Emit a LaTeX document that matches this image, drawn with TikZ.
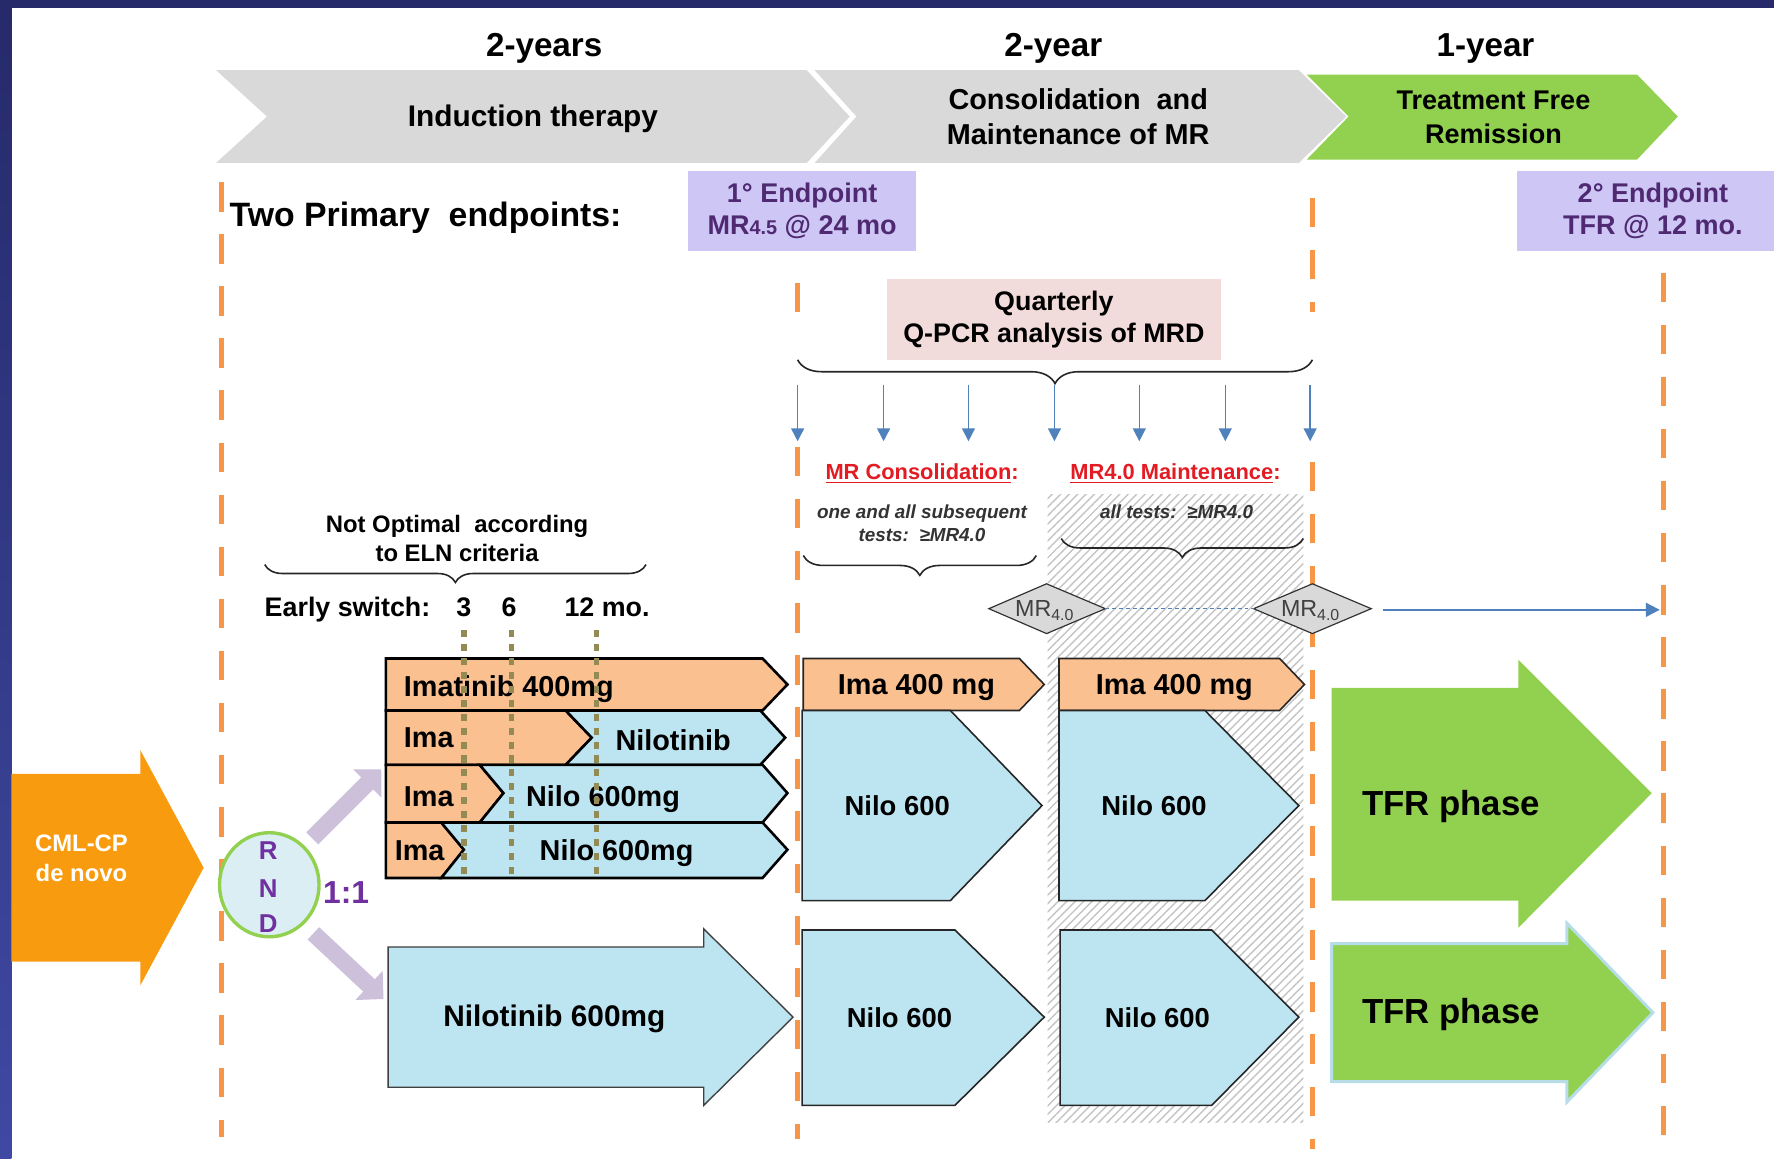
\documentclass[tikz,border=0pt]{standalone}
\usepackage{fontspec}
\setmainfont{Liberation Sans}
\usetikzlibrary{arrows.meta,decorations.pathreplacing,patterns.meta,shapes.geometric}
\definecolor{navy}{HTML}{262A6A}
\definecolor{navyb}{HTML}{3F49A3}
\definecolor{chevgray}{HTML}{D9D9D9}
\definecolor{tfrgreen}{HTML}{92D050}
\definecolor{dashorange}{HTML}{F79646}
\definecolor{barorange}{HTML}{FAC090}
\definecolor{barblue}{HTML}{BDE5F1}
\definecolor{cmlorange}{HTML}{F99B0E}
\definecolor{endlav}{HTML}{CEC7F6}
\definecolor{endtext}{HTML}{4F2A72}
\definecolor{qpink}{HTML}{F2DCDB}
\definecolor{arrowblue}{HTML}{4F81BD}
\definecolor{switcholive}{HTML}{948A54}
\definecolor{headred}{HTML}{E31B23}
\definecolor{rndfill}{HTML}{DAEEF3}
\definecolor{rndpurple}{HTML}{7030A0}
\definecolor{lavarrow}{HTML}{CCC0DA}
\definecolor{diagray}{HTML}{D9D9D9}
\definecolor{hatchgray}{HTML}{C4C4C4}
\definecolor{lightedge}{HTML}{B7DEE8}
\definecolor{notegray}{HTML}{333333}
\definecolor{mrgray}{HTML}{404040}
\begin{document}
\begin{tikzpicture}[x=0.02cm,y=-0.02cm,
  every node/.style={inner sep=0pt,outer sep=0pt},
  odash/.style={draw=dashorange,line width=2.5pt,dash pattern=on 14.8pt off 11.4pt},
  sw/.style={draw=switcholive,line width=2.7pt,dash pattern=on 3.6pt off 3.4pt},
  bar/.style={draw=black,line width=1.3pt,line join=miter},
  blk/.style={draw=black!85,line width=0.8pt,line join=miter},
  qarrow/.style={draw=arrowblue,line width=0.8pt,-{Triangle[length=6.5pt,width=6.5pt]}},
  lavarr/.style={draw=lavarrow,line width=8.5pt,-{Triangle[length=10pt,width=19.5pt]}},
  brc/.style={draw=black!85,line width=0.8pt,decorate},
  diam/.style={draw=black!80,fill=diagray,line width=0.6pt},
  yr/.style={font=\fontsize{16.7}{20}\selectfont\bfseries},
  bartext/.style={font=\fontsize{14.5}{17}\selectfont\bfseries},
  nilotext/.style={font=\fontsize{13.8}{16}\selectfont\bfseries},
  tfrtext/.style={font=\fontsize{17.5}{20}\selectfont\bfseries},
  redhead/.style={font=\fontsize{11}{13}\selectfont\bfseries,text=headred},
  note/.style={font=\fontsize{9.5}{12}\selectfont\bfseries\itshape,text=notegray,align=center},
  mrtxt/.style={font=\fontsize{11.7}{14}\selectfont,text=mrgray},
  endtxt/.style={font=\fontsize{13.6}{16}\selectfont\bfseries,text=endtext,align=center},
  rndl/.style={font=\fontsize{13}{15}\selectfont\bfseries,text=rndpurple},
]
\useasboundingbox (0,0) rectangle (1568,1024);
% frame
\fill[white] (0,0) rectangle (1568,1024);
\fill[navy] (0,0) rectangle (1568,7);
\shade[top color=navy,bottom color=navyb] (0,0) rectangle (10,1024);

% phase chevrons
\fill[chevgray] (191,62) -- (713,62) -- (751,103) -- (713,144) -- (191,144) -- (236,103) -- cycle;
\fill[chevgray] (720,62) -- (1148,62) -- (1190,103) -- (1148,144) -- (720,144) -- (757,103) -- cycle;
\fill[tfrgreen] (1155,66) -- (1447,66) -- (1483,103) -- (1447,141) -- (1155,141) -- (1192,103) -- cycle;
\node[yr,anchor=base] (y1) at (481,49.5) {2-years};
\node[yr,anchor=base] (y2) at (931,49.5) {2-year};
\node[yr,anchor=base] (y3) at (1313,49.5) {1-year};
\node[font=\fontsize{15}{18}\selectfont\bfseries,anchor=base] (ind) at (471,112) {Induction therapy};
\node[font=\fontsize{14.5}{17.6}\selectfont\bfseries,align=center] (cons) at (953,103.5) {Consolidation\ \ and\\Maintenance of MR};
\node[font=\fontsize{13.6}{17}\selectfont\bfseries,align=center] (tfrh) at (1320,104) {Treatment Free\\Remission};

% endpoints
\node[font=\fontsize{17}{20}\selectfont\bfseries,anchor=base west] (two) at (203,200) {Two Primary\ \ endpoints:};
\node[endtxt,fill=endlav,minimum width=4.04cm,minimum height=1.42cm] (ep1) at (709,186.5) {1° Endpoint\\MR{\fontsize{10}{10}\selectfont 4.5} @ 24 mo};
\fill[endlav] (1341,151) rectangle (1568,222);
\node[endtxt] (ep2) at (1461,186.5) {2° Endpoint\\TFR @ 12 mo.};

% orange dashed phase lines
\draw[odash] (196,161) -- (196,1005);
\draw[odash] (705,250) -- (705,277);
\draw[odash] (705,395) -- (705,1007);
\draw[odash] (1160,175) -- (1160,276);
\draw[odash] (1160,408) -- (1160,1016);
\draw[odash] (1470,241) -- (1470,1005);

% hatched maintenance region
\fill[pattern={Lines[angle=45,distance=3pt,line width=0.7pt]},pattern color=hatchgray] (926,437) rectangle (1152,992);

% quarterly box
\node[font=\fontsize{13.5}{16}\selectfont\bfseries,align=center,fill=qpink,minimum width=5.9cm,minimum height=1.42cm] (qbox) at (931.5,282.5) {Quarterly\\Q-PCR analysis of MRD};
\draw[brc,decoration={brace,amplitude=12pt}] (1160,318) -- (705,318);
\foreach \x [count=\i] in {705,781,856,932,1007,1083,1158} {
  \coordinate (qa\i) at (\x,340);
  \coordinate (qb\i) at (\x,390);
  \draw[qarrow] (qa\i) -- (qb\i);
}

% consolidation / maintenance headings
\node[redhead,anchor=base] (mrc) at (815,424) {\underline{MR Consolidation}:};
\node[redhead,anchor=base] (mrm) at (1039,424) {\underline{MR4.0 Maintenance}:};
\node[note] (n1) at (815,462.5) {one and all subsequent\\tests:\ \ ≥MR4.0};
\node[note,anchor=base] (n2) at (1040,458) {all tests:\ \ ≥MR4.0};
\draw[brc,decoration={brace,amplitude=10pt}] (916,491) -- (710,491);
\draw[brc,decoration={brace,amplitude=9.5pt}] (1152,476) -- (938,476);

% MR4.0 diamonds
\coordinate (d1w) at (874,538); \coordinate (d1n) at (925,516);
\coordinate (d1e) at (977,538); \coordinate (d1s) at (925,560);
\coordinate (d2w) at (1108,538); \coordinate (d2n) at (1160,516);
\coordinate (d2e) at (1212,538); \coordinate (d2s) at (1160,560);
\draw[diam] (d1w) -- (d1n) -- (d1e) -- (d1s) -- cycle;
\draw[diam] (d2w) -- (d2n) -- (d2e) -- (d2s) -- cycle;
\node[mrtxt,anchor=base] (d1t) at (923,545) {MR{\fontsize{8}{8}\selectfont\raisebox{-0.45ex}{4.0}}};
\node[mrtxt,anchor=base] (d2t) at (1158,545) {MR{\fontsize{8}{8}\selectfont\raisebox{-0.45ex}{4.0}}};
\draw[draw=arrowblue,line width=0.6pt,dash pattern=on 2pt off 1.5pt] (d1e) -- (d2w);
\coordinate (tfrgo) at (1222,539);
\coordinate (tfrend) at (1467,539);
\draw[draw=arrowblue,line width=0.9pt,-{Triangle[length=7pt,width=7pt]}] (tfrgo) -- (tfrend);

% ELN criteria
\node[font=\fontsize{12}{14.8}\selectfont\bfseries,align=center] (eln) at (404,476) {Not Optimal\ \ according\\to ELN criteria};
\draw[brc,decoration={brace,amplitude=9pt}] (571,499) -- (234,499);
\node[font=\fontsize{13.5}{16}\selectfont\bfseries,anchor=base west] (es) at (234,544.5) {Early switch:};
\node[font=\fontsize{13.5}{16}\selectfont\bfseries,anchor=base] (m3) at (410,544.5) {3};
\node[font=\fontsize{13.5}{16}\selectfont\bfseries,anchor=base] (m6) at (450,544.5) {6};
\node[font=\fontsize{13.5}{16}\selectfont\bfseries,anchor=base west] (m12) at (499,544.5) {12 mo.};

% CML-CP arrow
\fill[cmlorange] (10,684) -- (124,684) -- (124,663) -- (180,767) -- (124,871) -- (124,850) -- (10,850) -- cycle;
\node[font=\fontsize{12}{15.4}\selectfont\bfseries,text=white,align=center] (cml) at (72,758.5) {CML-CP\\de novo};

% randomisation
\node[ellipse,draw=tfrgreen,line width=1.7pt,fill=rndfill,minimum width=1.76cm,minimum height=1.84cm] (rnd) at (238,782) {};
\node[rndl,anchor=base] (rR) at (237,760) {R};
\node[rndl,anchor=base] (rN) at (237,793) {N};
\node[rndl,anchor=base] (rD) at (237,824) {D};
\node[font=\fontsize{16}{18}\selectfont\bfseries,text=rndpurple,anchor=base] (ratio) at (306,799) {1:1};
\coordinate (ua0) at (276,741); \coordinate (ua1) at (337,680);
\coordinate (la0) at (277,825); \coordinate (la1) at (339,883);
\draw[lavarr] (ua0) -- (ua1);
\draw[lavarr] (la0) -- (la1);

% arm A bars
\filldraw[bar,fill=barorange] (341,582) -- (674,582) -- (696,605) -- (674,628) -- (341,628) -- cycle;
\filldraw[bar,fill=barorange] (341,628) -- (500,628) -- (523,652) -- (500,676) -- (341,676) -- cycle;
\filldraw[bar,fill=barblue] (500,628) -- (672,628) -- (694,652) -- (672,676) -- (500,676) -- (523,652) -- cycle;
\filldraw[bar,fill=barorange] (341,676) -- (424,676) -- (445,701) -- (424,727) -- (341,727) -- cycle;
\filldraw[bar,fill=barblue] (424,676) -- (674,676) -- (696,701) -- (674,727) -- (424,727) -- (445,701) -- cycle;
\filldraw[bar,fill=barorange] (341,727) -- (390,727) -- (410,751) -- (390,776) -- (341,776) -- cycle;
\filldraw[bar,fill=barblue] (390,727) -- (674,727) -- (696,751) -- (674,776) -- (390,776) -- (410,751) -- cycle;
\node[bartext,anchor=base west] (imat) at (357,616) {Imatinib\ 400mg};
\node[bartext,anchor=base west] (ima2) at (357,661) {Ima};
\node[bartext,anchor=base] (nilo2) at (595,663) {Nilotinib};
\node[bartext,anchor=base west] (ima3) at (357,713) {Ima};
\node[bartext,anchor=base] (nilo3) at (533,713) {Nilo 600mg};
\node[bartext,anchor=base west] (ima4) at (349,761) {Ima};
\node[bartext,anchor=base] (nilo4) at (545,761) {Nilo 600mg};
\coordinate (s3a) at (410,557); \coordinate (s3b) at (410,776);
\coordinate (s6a) at (452,557); \coordinate (s6b) at (452,776);
\coordinate (s12a) at (527,557); \coordinate (s12b) at (527,776);
\draw[sw] (s3a) -- (s3b);
\draw[sw] (s6a) -- (s6b);
\draw[sw] (s12a) -- (s12b);

% arm B
\filldraw[draw=mrgray,line width=0.7pt,fill=barblue,line join=miter] (343,837) -- (622,837) -- (622,821) -- (701,899) -- (622,977) -- (622,961) -- (343,961) -- cycle;
\node[font=\fontsize{15}{18}\selectfont\bfseries,anchor=base] (armb) at (490,907.5) {Nilotinib\ 600mg};

% consolidation column
\filldraw[blk,fill=barorange] (710,582) -- (901,582) -- (923,605) -- (901,628) -- (710,628) -- cycle;
\filldraw[blk,fill=barblue] (709,628) -- (840,628) -- (921,712) -- (840,796) -- (709,796) -- cycle;
\filldraw[blk,fill=barblue] (709,822) -- (844,822) -- (923,899) -- (844,977) -- (709,977) -- cycle;
% maintenance column
\filldraw[blk,fill=barorange] (936,582) -- (1131,582) -- (1153,605) -- (1131,628) -- (936,628) -- cycle;
\filldraw[blk,fill=barblue] (936,628) -- (1065,628) -- (1148,712) -- (1065,796) -- (936,796) -- cycle;
\filldraw[blk,fill=barblue] (937,822) -- (1071,822) -- (1148,899) -- (1071,977) -- (937,977) -- cycle;
\node[bartext,anchor=base] (c1ima) at (810,613.5) {Ima 400 mg};
\node[bartext,anchor=base] (c2ima) at (1038,613.5) {Ima 400 mg};
\node[nilotext,anchor=base] (c1n1) at (793,721) {Nilo 600};
\node[nilotext,anchor=base] (c2n1) at (1020,721) {Nilo 600};
\node[nilotext,anchor=base] (c1n2) at (795,908) {Nilo 600};
\node[nilotext,anchor=base] (c2n2) at (1023,908) {Nilo 600};

% TFR arrows
\fill[tfrgreen] (1177,608) -- (1342,608) -- (1342,583) -- (1460,701) -- (1342,820) -- (1342,796) -- (1177,796) -- cycle;
\filldraw[fill=tfrgreen,draw=lightedge,line width=1.5pt] (1177,834) -- (1385,834) -- (1385,816) -- (1461,895) -- (1385,974) -- (1385,956) -- (1177,956) -- cycle;
\node[tfrtext,anchor=base west] (tfr1) at (1204,721) {TFR phase};
\node[tfrtext,anchor=base west] (tfr2) at (1204,905) {TFR phase};
\end{tikzpicture}
\end{document}
